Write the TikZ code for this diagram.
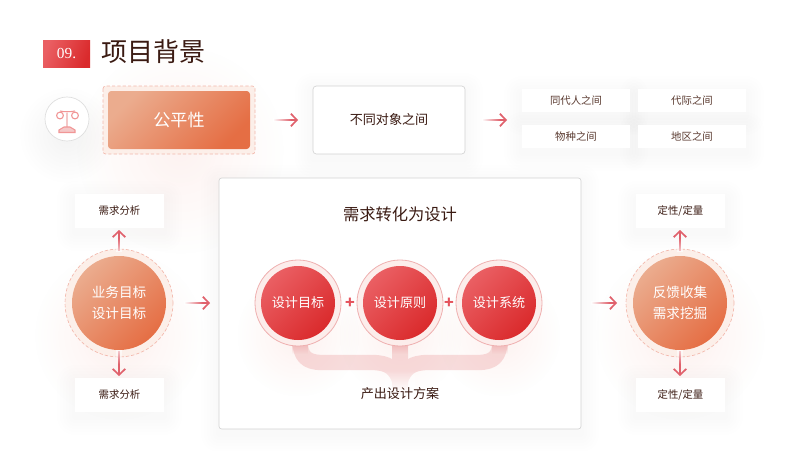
\documentclass[tikz,border=0pt]{standalone}
\usepackage{fontspec}
\setmainfont{Liberation Serif}
\newfontfamily\cjk{Noto Sans CJK SC}
\usetikzlibrary{arrows.meta,fadings}
\definecolor{inkdark}{HTML}{3A1A12}
\definecolor{inkmid}{HTML}{5A3A30}
\definecolor{redpale}{HTML}{EA5F63}
\definecolor{reddeep}{HTML}{DA2A2C}
\definecolor{orapale}{HTML}{EBAC8E}
\definecolor{oradeep}{HTML}{E56E44}
\definecolor{arrowred}{HTML}{E0616C}
\definecolor{dashpink}{HTML}{F3B8AC}
\definecolor{glowpink}{HTML}{F08070}
\definecolor{ringpink}{HTML}{EFB0B0}
\definecolor{ringfill}{HTML}{FCEDEB}
\definecolor{orafill}{HTML}{FCEFE9}
\definecolor{ribbon}{HTML}{E98F90}
\tikzfading[name=glowf, inner color=transparent!55, outer color=transparent!100]
\tikzfading[name=wipeeast, left color=transparent!0, right color=transparent!100]
\tikzfading[name=wipenorth, top color=transparent!100, bottom color=transparent!0]
\tikzfading[name=wipesouth, top color=transparent!0, bottom color=transparent!100]
\tikzset{
  x=0.75pt,y=-0.75pt,
  txt/.style={font=\cjk,inner sep=0pt,align=center},
  flowarrow/.style={draw=arrowred,line width=1.25pt,-{Straight Barb[length=4.5pt,width=9.5pt,line width=1.25pt]}},
  dashring/.style={draw=dashpink,line width=0.5pt,dash pattern=on 2.4pt off 1.6pt},
  redball/.style={top color=redpale,bottom color=reddeep,shading angle=45,draw=none},
  oraball/.style={top color=orapale,bottom color=oradeep,shading angle=45,draw=none},
}
\newcommand{\softbox}[6]{% x1 y1 x2 y2 colour opacity
  \foreach \e in {3,6,...,18}{
    \fill[#5,opacity=#6,rounded corners=\e*0.75pt]
      (#1-\e,#2-\e+5) rectangle (#3+\e,#4+\e+5);
  }}
\newcommand{\softglow}[5]{% x y r colour opacity
  \fill[#4,opacity=#5,path fading=glowf] (#1,#2) circle (#3);}
\newcommand{\flowarrowdraw}[4]{% name, x1, x2, y
  \coordinate (#1a) at (#2,#4);
  \coordinate (#1b) at (#3,#4);
  \draw[flowarrow] (#1a) -- (#1b);
  \fill[white,path fading=wipeeast] (#2-1,#4-2) rectangle ({(#2+#3)/2+5},#4+2);
}
\begin{document}
\begin{tikzpicture}
\useasboundingbox (0,0) rectangle (800,450);
\fill[white] (0,0) rectangle (800,450);

% header
\node[minimum width=47*0.75pt,minimum height=27*0.75pt,inner sep=0pt,top color=redpale,bottom color=reddeep,shading angle=70,
      font=\fontsize{11.5pt}{12pt}\selectfont,text=white] (badge) at (66.5,53.5) {09.};
\node[txt,font=\cjk\fontsize{19.5pt}{22pt}\selectfont,text=inkdark,anchor=west] (title) at (101,52) {项目背景};

% top row glows
\softglow{67}{135}{48}{gray}{0.22}
\softglow{180}{150}{105}{glowpink}{0.22}
\softbox{522}{89}{630}{112}{gray}{0.005}
\softbox{638}{89}{746}{112}{gray}{0.005}
\softbox{522}{125}{630}{148}{gray}{0.005}
\softbox{638}{125}{746}{148}{gray}{0.005}
\softbox{313}{86}{465}{154}{gray}{0.005}

% icon
\node[circle,draw=black!13,fill=white,line width=0.5pt,minimum size=44*0.75pt,inner sep=0pt] (icon) at (67,119) {};
\begin{scope}[draw=ringpink!85!red,line width=0.8pt,fill=ringpink!70]
  \draw (60,115.5) circle (3.4);
  \draw (75,115.5) circle (3.4);
  \draw (60,111) .. controls (64,112) and (70,112) .. (75,111);
  \fill (65.8,113) rectangle (68.4,127);
  \draw[fill=ringpink!70] (64,127) -- (70,127) -- (75,130) -- (75,132.5) -- (59,132.5) -- (59,130) -- cycle;
\end{scope}

% fairness box
\draw[dashring,fill=orafill,rounded corners=2pt] (103,86) rectangle (255,154);
\node[minimum width=142*0.75pt,minimum height=58*0.75pt,inner sep=0pt,rounded corners=2.5pt,oraball,
      font=\cjk\fontsize{12.8pt}{14pt}\selectfont,text=white] (fair) at (179,120) {公平性};

% object box
\node[minimum width=152*0.75pt,minimum height=68*0.75pt,inner sep=0pt,rounded corners=2.5pt,fill=white,draw=black!17,line width=0.5pt,
      font=\cjk\fontsize{9.8pt}{12pt}\selectfont,text=inkdark] (obj) at (389,120) {不同对象之间};

% small cards
\tikzset{smallcard/.style={fill=white,minimum width=108*0.75pt,minimum height=23*0.75pt,inner sep=0pt,
      font=\cjk\fontsize{7.8pt}{9pt}\selectfont,text=inkmid}}
\node[smallcard] (c1) at (576,100.5) {同代人之间};
\node[smallcard] (c2) at (692,100.5) {代际之间};
\node[smallcard] (c3) at (576,136.5) {物种之间};
\node[smallcard] (c4) at (692,136.5) {地区之间};

\flowarrowdraw{ar1}{274}{298}{120}
\flowarrowdraw{ar2}{483}{507}{120}

% centre panel
\softbox{219}{178}{581}{429}{gray}{0.004}
\node[minimum width=362*0.75pt,minimum height=251*0.75pt,inner sep=0pt,rounded corners=2pt,fill=white,draw=black!17,line width=0.5pt] (panel) at (400,303.5) {};
\node[txt,font=\cjk\fontsize{12.2pt}{14pt}\selectfont,text=inkdark] (ptitle) at (400,214) {需求转化为设计};

% glow under the balls
\softglow{298}{335}{62}{glowpink}{0.24}
\softglow{400}{335}{62}{glowpink}{0.24}
\softglow{499}{335}{62}{glowpink}{0.24}

% ribbons
\begin{scope}[transparency group,opacity=0.30]
  \draw[ribbon,line width=11.5pt,line join=round]
     (300,340) .. controls (300,356) and (306,362.5) .. (322,362.5) -- (372,362.5) .. controls (388,362.5) and (396,368) .. (400,382);
  \draw[ribbon,line width=11.5pt,line join=round]
     (500,340) .. controls (500,356) and (494,362.5) .. (478,362.5) -- (428,362.5) .. controls (412,362.5) and (404,368) .. (400,382);
  \fill[ribbon] (392,340) rectangle (408,392);
\end{scope}
\fill[white,path fading=wipenorth] (385,370) rectangle (415,392);
\fill[ribbon,opacity=0.45,path fading=wipesouth] (292,342) rectangle (308,354);
\fill[ribbon,opacity=0.45,path fading=wipesouth] (392,342) rectangle (408,354);
\fill[ribbon,opacity=0.45,path fading=wipesouth] (492,342) rectangle (508,354);

% balls
\tikzset{ballring/.style={circle,draw=ringpink,fill=ringfill,line width=0.6pt,minimum size=86*0.75pt,inner sep=0pt},
  ball/.style={circle,redball,minimum size=74*0.75pt,inner sep=0pt,font=\cjk\fontsize{9.8pt}{12pt}\selectfont,text=white,align=center}}
\node[ballring] (r1) at (298,303) {};
\node[ballring] (r2) at (400,303) {};
\node[ballring] (r3) at (499,303) {};
\node[ball] (b1) at (298,303) {设计目标};
\node[ball] (b2) at (400,303) {设计原则};
\node[ball] (b3) at (499,303) {设计系统};
\node[txt,font=\cjk\bfseries\fontsize{12pt}{12pt}\selectfont,text=arrowred!85!red] (p1) at (350,303) {+};
\node[txt,font=\cjk\bfseries\fontsize{12pt}{12pt}\selectfont,text=arrowred!85!red] (p2) at (449,303) {+};
\node[txt,font=\cjk\fontsize{9.8pt}{12pt}\selectfont,text=inkdark] (out) at (400,394) {产出设计方案};

% side glows
\softglow{119}{335}{85}{glowpink}{0.26}
\softglow{680}{335}{85}{glowpink}{0.26}

% side cards
\softbox{75}{194}{164}{228}{gray}{0.005}
\softbox{75}{378}{164}{412}{gray}{0.005}
\softbox{636}{194}{725}{228}{gray}{0.005}
\softbox{636}{378}{725}{412}{gray}{0.005}
\tikzset{sidecard/.style={fill=white,minimum width=89*0.75pt,minimum height=34*0.75pt,inner sep=0pt,
      font=\cjk\fontsize{7.8pt}{9pt}\selectfont,text=inkdark},
  sidering/.style={circle,dashring,fill=orafill,minimum size=108*0.75pt,inner sep=0pt},
  sideball/.style={circle,oraball,minimum size=94*0.75pt,inner sep=0pt,font=\cjk\fontsize{10.2pt}{15.5pt}\selectfont,text=white,align=center}}
\node[sidecard] (lt) at (119.5,211) {需求分析};
\node[sidecard] (lb) at (119.5,395) {需求分析};
\node[sidecard] (rt) at (680.5,211) {定性/定量};
\node[sidecard] (rb) at (680.5,395) {定性/定量};
\node[sidering] (lr) at (119,303) {};
\node[sidering] (rr) at (680,303) {};
\node[sideball] (lball) at (119,303) {业务目标\\设计目标};
\node[sideball] (rball) at (680,303) {反馈收集\\需求挖掘};

% vertical connectors
\coordinate (lua) at (119,251); \coordinate (lub) at (119,230);
\coordinate (lda) at (119,351); \coordinate (ldb) at (119,376);
\coordinate (rua) at (680,251); \coordinate (rub) at (680,230);
\coordinate (rda) at (680,351); \coordinate (rdb) at (680,376);
\draw[flowarrow] (lua) -- (lub);
\draw[flowarrow] (lda) -- (ldb);
\draw[flowarrow] (rua) -- (rub);
\draw[flowarrow] (rda) -- (rdb);
\fill[white,path fading=wipenorth,opacity=0.7] (116,238) rectangle (122,252);
\fill[white,path fading=wipenorth,opacity=0.7] (677,238) rectangle (683,252);
\fill[white,path fading=wipesouth,opacity=0.7] (116,350) rectangle (122,364);
\fill[white,path fading=wipesouth,opacity=0.7] (677,350) rectangle (683,364);

\flowarrowdraw{ar3}{185}{210}{303}
\flowarrowdraw{ar4}{592}{617}{303}
\end{tikzpicture}
\end{document}
